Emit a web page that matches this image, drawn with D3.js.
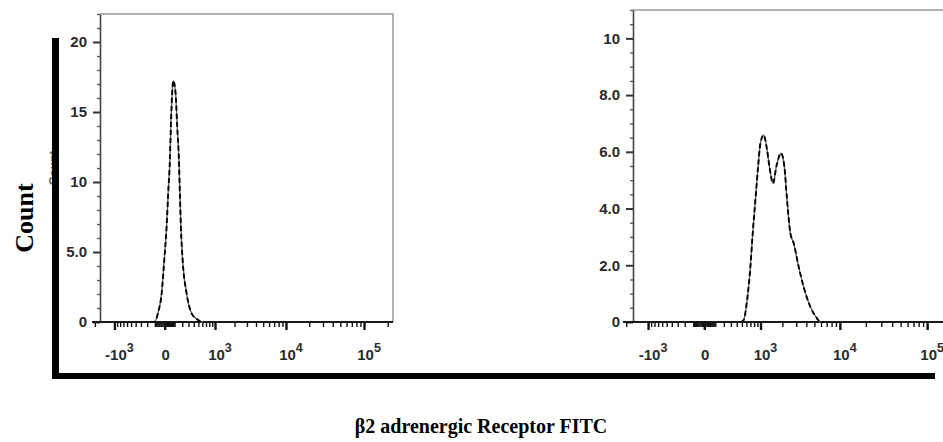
<!DOCTYPE html>
<html>
<head>
<meta charset="utf-8">
<title>beta2 adrenergic receptor FITC histograms</title>
<script src="https://d3js.org/d3.v7.min.js"></script>
<style>
  body { margin: 0; background: #fff; }
  .axis text { font-family: "Liberation Sans", Arial, sans-serif; font-weight: bold; fill: #2a2a2a; }
  .serif { font-family: "Liberation Serif", "Times New Roman", serif; font-weight: bold; fill: #000; }
</style>
</head>
<body>
<svg id="chart" width="943" height="442"></svg>
<script>
// --- data ---
// left panel: fluorescence (FITC) vs count
let leftFluor = [-150, -110, -88, -66, -28, -4, 17, 32, 49, 59, 73, 84, 112, 132, 154, 167, 181, 206, 268, 357, 496, 580, 650];
let leftCount = [0, 0, 0.14, 0.62, 2.05, 4.43, 6.81, 9.19, 11.57, 13.95, 16.34, 17.24, 16.34, 13.95, 11.57, 9.19, 6.81, 4.43, 2.05, 0.62, 0.14, 0, 0];

// right panel
let rightFluor = [480, 539, 617, 699, 761, 838, 921, 996, 1113, 1243, 1339, 1505, 1666, 1923, 2122, 2298, 2532, 2787, 3215, 3702, 4467, 5375, 5884, 6500];
let rightCount = [0, 0.07, 0.78, 1.95, 3.13, 4.30, 5.48, 6.30, 6.59, 6.06, 5.48, 4.89, 5.48, 5.95, 5.48, 4.30, 3.13, 2.78, 1.95, 1.24, 0.54, 0.13, 0, 0];

// x axis (biexponential-like, same for both)
let xDomain = [-2200, 262144];
let xMajor = [-1000, 0, 1000, 10000, 100000];
let xTickBase = ["-10", "0", "10", "10", "10"];
let xTickExp = ["3", "", "3", "4", "5"];

// y axes
let leftYMax = 22, leftYMajor = [0, 5, 10, 15, 20], leftYLabels = ["0", "5.0", "10", "15", "20"], leftYMinorStep = 1;
let rightYMax = 11, rightYMajor = [0, 2, 4, 6, 8, 10], rightYLabels = ["0", "2.0", "4.0", "6.0", "8.0", "10"], rightYMinorStep = 0.5;

let yTitle = "Count";
let xTitle = "β2 adrenergic Receptor FITC";

const svg = d3.select("#chart");
svg.append("rect").attr("width", 943).attr("height", 442).attr("fill", "#fff");

// minor ticks on x: 1..9 x 10^k, both signs
let xMinor = [];
[10, 100, 1000, 10000, 100000].forEach(d => {
  for (let m = 1; m < 10; m++) {
    let v = m * d;
    if (!xMajor.includes(v) && v <= xDomain[1]) xMinor.push(v);
    if (!xMajor.includes(-v) && -v >= xDomain[0]) xMinor.push(-v);
  }
});

let panels = [
  { fluor: leftFluor, count: leftCount, yMax: leftYMax, yMajor: leftYMajor, yLabels: leftYLabels, yStep: leftYMinorStep,
    x0: 92, x1: 397, yAxisX: 100, frameRight: 393, top: 14, bottom: 322, fs: 15 },
  { fluor: rightFluor, count: rightCount, yMax: rightYMax, yMajor: rightYMajor, yLabels: rightYLabels, yStep: rightYMinorStep,
    x0: 623, x1: 964, yAxisX: 633, frameRight: 960, top: 10, bottom: 322, fs: 15 }
];

panels.forEach(p => {
  let x = d3.scaleSymlog().constant(300).domain(xDomain).range([p.x0, p.x1]);
  let y = d3.scaleLinear().domain([0, p.yMax]).range([p.bottom, p.top]);
  let g = svg.append("g");

  // frame (top + right)
  g.append("path")
    .attr("d", `M${p.yAxisX},${p.top}H${p.frameRight}V${p.bottom}`)
    .attr("fill", "none").attr("stroke", "#9a9a9a").attr("stroke-width", 1.5);

  // y minor ticks
  let yMinor = d3.range(0, p.yMax + 1e-9, p.yStep).filter(v => !p.yMajor.includes(v));
  g.append("g").attr("class", "axis").attr("transform", `translate(${p.yAxisX},0)`)
    .call(d3.axisLeft(y).tickValues(yMinor).tickSize(3).tickFormat(""))
    .call(a => a.select(".domain").remove())
    .call(a => a.selectAll("line").attr("stroke", "#555").attr("stroke-width", 1.3));

  // y major ticks + labels
  g.append("g").attr("class", "axis").attr("transform", `translate(${p.yAxisX},0)`)
    .call(d3.axisLeft(y).tickValues(p.yMajor).tickSize(7).tickSizeOuter(0).tickPadding(6)
      .tickFormat((d, i) => p.yLabels[i]))
    .call(a => a.select(".domain").attr("stroke", "#444").attr("stroke-width", 1.6))
    .call(a => a.selectAll("line").attr("stroke", "#333").attr("stroke-width", 2))
    .call(a => a.selectAll("text").attr("font-size", p.fs).attr("font-family", null));

  // x axis line
  g.append("line").attr("x1", p.x0).attr("x2", Math.min(p.x1, p.frameRight))
    .attr("y1", p.bottom).attr("y2", p.bottom).attr("stroke", "#1a1a1a").attr("stroke-width", 2.2);

  // x minor ticks
  g.append("g").attr("class", "axis").attr("transform", `translate(0,${p.bottom})`)
    .call(d3.axisBottom(x).tickValues(xMinor).tickSize(5).tickFormat(""))
    .call(a => a.select(".domain").remove())
    .call(a => a.selectAll("line").attr("stroke", "#111").attr("stroke-width", 1.4));

  // x major ticks
  g.append("g").attr("class", "axis").attr("transform", `translate(0,${p.bottom})`)
    .call(d3.axisBottom(x).tickValues(xMajor).tickSize(8).tickFormat(""))
    .call(a => a.select(".domain").remove())
    .call(a => a.selectAll("line").attr("stroke", "#111").attr("stroke-width", 2.4));

  // x labels with superscripts
  let lab = g.append("g").attr("class", "axis").selectAll("text").data(xMajor).join("text")
    .attr("x", (d, i) => x(d) + (xTickExp[i] ? 5 : 1))
    .attr("y", p.bottom + 38)
    .attr("text-anchor", "middle")
    .attr("font-size", p.fs);
  lab.append("tspan").text((d, i) => xTickBase[i]);
  lab.append("tspan").attr("dy", -8).attr("font-size", p.fs - 2.5).text((d, i) => xTickExp[i]);

  // histogram curve: thin grey line with dark dashes on top
  let pts = p.fluor.map((f, i) => [f, p.count[i]]);
  let line = d3.line().x(d => x(d[0])).y(d => y(d[1])).curve(d3.curveMonotoneX);
  g.append("path").datum(pts).attr("d", line)
    .attr("fill", "none").attr("stroke", "#555").attr("stroke-width", 1.3);
  g.append("path").datum(pts).attr("d", line)
    .attr("fill", "none").attr("stroke", "#000").attr("stroke-width", 1.9).attr("stroke-dasharray", "5,3");
});

// small original axis label, mostly hidden by the big bar
svg.append("text").attr("transform", "translate(58,168) rotate(-90)")
  .attr("text-anchor", "middle").attr("font-size", 12).attr("font-weight", "bold")
  .attr("font-family", "Liberation Sans, Arial, sans-serif").attr("fill", "#666").text(yTitle);

// big L-shaped axes
svg.append("rect").attr("x", 52).attr("y", 38).attr("width", 7).attr("height", 341).attr("fill", "#000");
svg.append("rect").attr("x", 52).attr("y", 373).attr("width", 883).attr("height", 6).attr("fill", "#000");

// titles
svg.append("text").attr("class", "serif").attr("transform", "translate(33,218) rotate(-90)")
  .attr("text-anchor", "middle").attr("font-size", 26).text(yTitle);
svg.append("text").attr("class", "serif").attr("x", 481).attr("y", 433)
  .attr("text-anchor", "middle").attr("font-size", 20).text(xTitle);
</script>
</body>
</html>
